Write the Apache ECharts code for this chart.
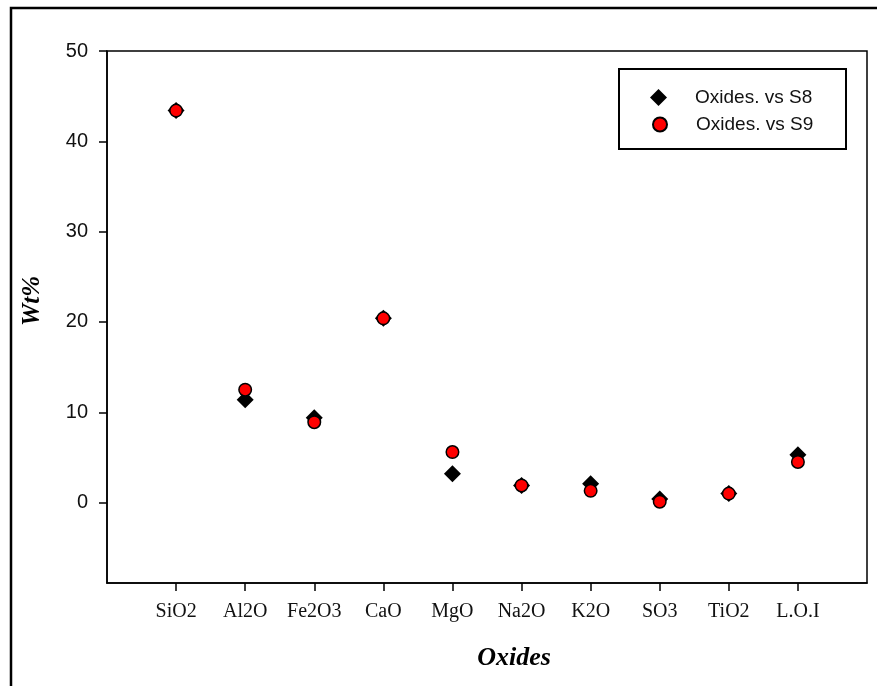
<!DOCTYPE html>
<html>
<head>
<meta charset="utf-8">
<script src="https://cdn.jsdelivr.net/npm/echarts@6/dist/echarts.min.js"></script>
<style>
  html, body { margin: 0; padding: 0; background: #fff; }
  #chart { width: 877px; height: 686px; }
</style>
</head>
<body>
<div id="chart"></div>
<script>
// Oxide composition (wt%) of samples S8 and S9
const categories = ['SiO2', 'Al2O', 'Fe2O3', 'CaO', 'MgO', 'Na2O', 'K2O', 'SO3', 'TiO2', 'L.O.I'];
const s8Values = [43.4, 11.4, 9.4, 20.4, 3.2, 1.9, 2.1, 0.4, 1.0, 5.3];
const s9Values = [43.4, 12.5, 8.9, 20.4, 5.6, 1.9, 1.3, 0.1, 1.0, 4.5];
const yTicks = [0, 10, 20, 30, 40, 50];
const xTicks = [1, 2, 3, 4, 5, 6, 7, 8, 9, 10];

const toPoints = vals => vals.map((v, i) => [i + 1, v]);

const chart = echarts.init(document.getElementById('chart'), null, { renderer: 'canvas' });

chart.setOption({
  animation: false,
  backgroundColor: '#ffffff',
  grid: {
    left: 107, top: 51, right: 10, bottom: 103,
    show: true, borderColor: '#000', borderWidth: 1.5, backgroundColor: 'transparent'
  },
  xAxis: {
    type: 'value',
    min: 0, max: 11,
    splitLine: { show: false },
    axisLine: { onZero: false, lineStyle: { color: '#000', width: 1.5 } },
    axisTick: { customValues: xTicks, length: 8, lineStyle: { color: '#000', width: 1.5 } },
    axisLabel: {
      customValues: xTicks,
      formatter: v => categories[Math.round(v) - 1] || '',
      fontFamily: 'Liberation Serif', fontSize: 20, color: '#111', margin: 19
    }
  },
  yAxis: {
    type: 'value',
    min: -8.9, max: 50,
    splitLine: { show: false },
    axisLine: { onZero: false, lineStyle: { color: '#000', width: 1.5 } },
    axisTick: { customValues: yTicks, length: 8, lineStyle: { color: '#000', width: 1.5 } },
    axisLabel: {
      customValues: yTicks,
      fontFamily: 'Liberation Sans', fontSize: 20, color: '#111', margin: 19
    }
  },
  legend: [
    {
      data: ['Oxides. vs S8'],
      left: 650, top: 88, padding: 0,
      itemWidth: 17, itemHeight: 17,
      textStyle: { fontFamily: 'Liberation Sans', fontSize: 19, color: '#111', padding: [0, 0, 0, 23] }
    },
    {
      data: ['Oxides. vs S9'],
      left: 652, top: 115, padding: 0,
      itemWidth: 14, itemHeight: 14,
      textStyle: { fontFamily: 'Liberation Sans', fontSize: 19, color: '#111', padding: [0, 0, 0, 24] }
    }
  ],
  graphic: [
    {
      type: 'rect', silent: true, z: -10,
      shape: { x: 11, y: 8, width: 900, height: 700 },
      style: { fill: 'none', stroke: '#000', lineWidth: 2.5 }
    },
    {
      type: 'rect', silent: true,
      shape: { x: 619, y: 69, width: 227, height: 80 },
      style: { fill: '#fff', stroke: '#000', lineWidth: 2 }, z: 0
    },
    {
      type: 'text', silent: true,
      x: 33, y: 301, rotation: Math.PI / 2,
      style: {
        text: 'Wt%', fill: '#000',
        font: 'italic bold 25px "Liberation Serif"',
        textAlign: 'center', textVerticalAlign: 'middle'
      }
    },
    {
      type: 'text', silent: true,
      x: 514, y: 658,
      style: {
        text: 'Oxides', fill: '#000',
        font: 'italic bold 26px "Liberation Serif"',
        textAlign: 'center', textVerticalAlign: 'middle'
      }
    }
  ],
  series: [
    {
      name: 'Oxides. vs S8',
      type: 'scatter',
      symbol: 'diamond',
      symbolSize: 17,
      itemStyle: { color: '#000', borderColor: '#000', borderWidth: 0, opacity: 1 },
      data: toPoints(s8Values),
      z: 2
    },
    {
      name: 'Oxides. vs S9',
      type: 'scatter',
      symbol: 'circle',
      symbolSize: 12.5,
      itemStyle: { color: '#ff0000', borderColor: '#000', borderWidth: 1.5, opacity: 1 },
      data: toPoints(s9Values),
      z: 3
    }
  ]
});
</script>
</body>
</html>
